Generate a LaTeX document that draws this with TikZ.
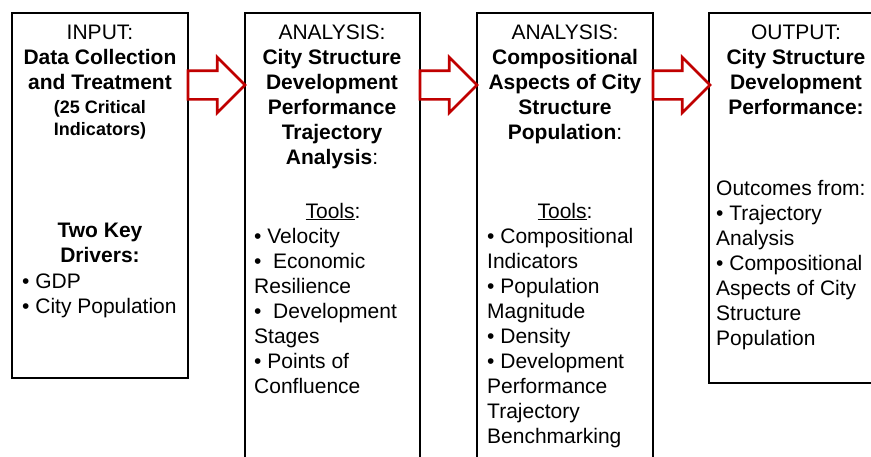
\documentclass[tikz,border=0pt]{standalone}
\usepackage{fontspec}
\setmainfont{Liberation Sans}
\usetikzlibrary{shapes.arrows}
\definecolor{arrowred}{RGB}{192,0,0}

\begin{document}
\begin{tikzpicture}[x=1pt, y=-1pt,
        stage/.style = {draw, line width=1.6pt, anchor=north west,
            inner sep=0pt, outer sep=0pt},
        flow/.style = {single arrow, draw=arrowred, fill=white,
            line width=2.6pt, inner xsep=0pt, inner ysep=13pt,
            single arrow head extend=13.5pt, minimum height=57pt,
            anchor=tail, outer sep=0pt},
        txt/.style = {font=\fontsize{21}{25}\selectfont, inner sep=0pt},
        title/.style = {txt, align=center, anchor=base},
        items/.style = {txt, align=left, anchor=base west}]
    \useasboundingbox (0,0) rectangle (871,456);

    % the four stages
    \node [stage, minimum width=176pt, minimum height=365pt] (input) at (12,13) {};
    \node [stage, minimum width=175pt, minimum height=470pt] (trajectory) at (245,13) {};
    \node [stage, minimum width=176pt, minimum height=470pt] (composition) at (477,13) {};
    \node [stage, minimum width=180pt, minimum height=370pt] (output) at (709,13) {};

    % block arrows between them
    \coordinate (flowline) at (0,85);
    \node [flow] (arr1) at (input.east |- flowline) {};
    \node [flow] (arr2) at (trajectory.east |- flowline) {};
    \node [flow] (arr3) at (composition.east |- flowline) {};

    % texts sit on the baseline of their last line
    % input
    \node [title] (inputtitle) at (100,89) {INPUT:\\\textbf{Data Collection}\\
        \textbf{and Treatment}};
    \node [title, font=\fontsize{18}{22}\selectfont\bfseries] (inputnote) at (100,135)
        {(25 Critical\\Indicators)};
    \node [title] (drivertitle) at (100,262) {\textbf{Two Key}\\\textbf{Drivers:}};
    \node [items] (drivers) at (22,313) {\textbullet\ GDP\\\textbullet\ City Population};

    % trajectory analysis
    \node [title] (trajtitle) at (332,164) {ANALYSIS:\\\textbf{City Structure}\\
        \textbf{Development}\\\textbf{Performance}\\\textbf{Trajectory}\\
        \textbf{Analysis}:};
    \node [title] (trajtools) at (333,218) {\underline{Tools}:};
    \node [items] (trajlist) at (254,393) {\textbullet\ Velocity\\
        \textbullet\ \ Economic\\Resilience\\\textbullet\ \ Development\\Stages\\
        \textbullet\ Points of\\Confluence};

    % compositional aspects
    \node [title] (comptitle) at (565,139) {ANALYSIS:\\\textbf{Compositional}\\
        \textbf{Aspects of City}\\\textbf{Structure}\\\textbf{Population}:};
    \node [title] (comptools) at (565,218) {\underline{Tools}:};
    \node [items] (complist) at (487,443) {\textbullet\ Compositional\\Indicators\\
        \textbullet\ Population\\Magnitude\\\textbullet\ Density\\
        \textbullet\ Development\\Performance\\Trajectory\\Benchmarking};

    % output
    \node [title] (outtitle) at (796,114) {OUTPUT:\\\textbf{City Structure}\\
        \textbf{Development}\\\textbf{Performance:}};
    \node [items] (outlist) at (716,345) {Outcomes from:\\\textbullet\ Trajectory\\
        Analysis\\\textbullet\ Compositional\\Aspects of City\\Structure\\Population};
\end{tikzpicture}
\end{document}
